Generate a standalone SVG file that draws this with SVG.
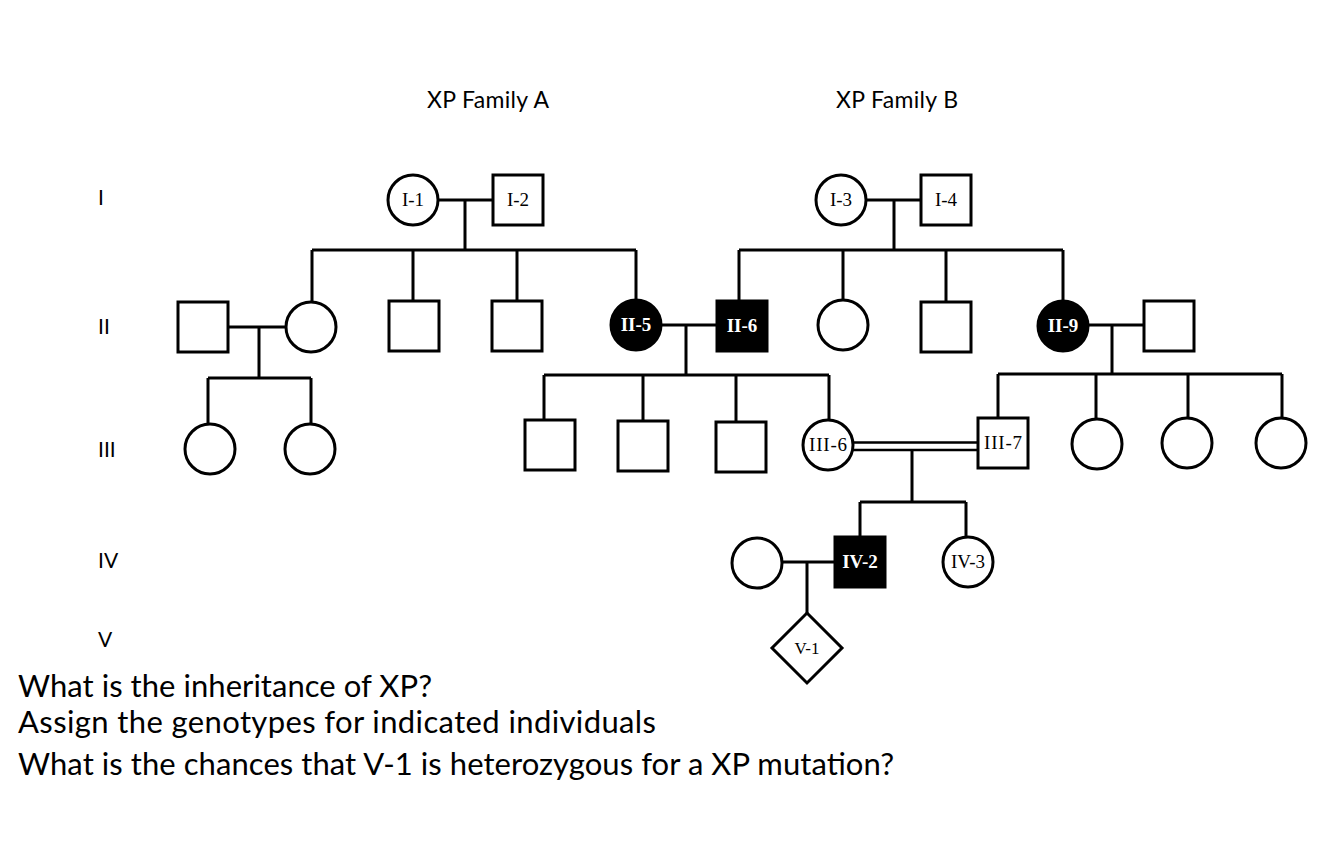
<svg xmlns="http://www.w3.org/2000/svg" width="1334" height="845" viewBox="0 0 1334 845">
<style>
.s{fill:#fff;stroke:#000;stroke-width:3}
.a{fill:#000;stroke:#000;stroke-width:3}
.c{fill:none;stroke:#000;stroke-width:3}
.d{fill:none;stroke:#000;stroke-width:2.5}
.l{font-family:"Liberation Serif",serif;font-size:19px;text-anchor:middle;fill:#000}
.w{font-family:"Liberation Serif",serif;font-size:19px;font-weight:bold;text-anchor:middle;fill:#fff}
.g{font-family:Lato,"Open Sans",sans-serif;font-size:21px;fill:#000}
.h{font-family:Lato,"Open Sans",sans-serif;font-size:23px;fill:#000}
.q{font-family:Lato,"Open Sans",sans-serif;font-size:31px;fill:#000}
</style>
<rect width="1334" height="845" fill="#fff"/>
<g id="headers">
<text class="h" x="427" y="108" textLength="122">XP Family A</text>
<text class="h" x="836" y="108" textLength="122">XP Family B</text>
</g>
<g id="generations">
<text class="g" x="98" y="205">I</text>
<text class="g" x="98" y="334">II</text>
<text class="g" x="98" y="457">III</text>
<text class="g" x="98" y="568">IV</text>
<text class="g" x="98" y="647">V</text>
</g>
<g id="connectors">
<path class="c" d="M438 200H493M465 200V250M312 250H636M312 250V302M413 250V301M517 250V301M636 250V301"/>
<path class="c" d="M228 327H286M259 327V378M208 378H311M208 378V424M311 378V424"/>
<path class="c" d="M661 325H717M686 325V375M544 375H829M544 375V420M643 375V421M736 375V422M829 375V420"/>
<path class="c" d="M866 200H921M894 200V250M739 250H1063M739 250V301M843 250V300M946 250V302M1063 250V301"/>
<path class="c" d="M1088 325H1144M1112 325V374M998 374H1282M998 374V418M1096 374V419M1188 374V418M1282 374V418"/>
<path class="d" d="M853 442.5H978M853 450H978"/>
<path class="c" d="M912 450V502M860 502H966M860 502V537M966 502V537"/>
<path class="c" d="M782 562H835M807 562V613"/>
</g>
<g id="I-1"><circle class="s" cx="413" cy="200" r="25"/><text class="l" x="413" y="206">I-1</text></g>
<g id="I-2"><rect class="s" x="493" y="175" width="50" height="50"/><text class="l" x="518" y="206">I-2</text></g>
<g id="I-3"><circle class="s" cx="841" cy="200" r="25"/><text class="l" x="841" y="206">I-3</text></g>
<g id="I-4"><rect class="s" x="921" y="175" width="50" height="50"/><text class="l" x="946" y="206">I-4</text></g>
<g id="II-1"><rect class="s" x="178" y="302" width="50" height="50"/></g>
<g id="II-2"><circle class="s" cx="311" cy="327" r="25"/></g>
<g id="II-3"><rect class="s" x="389" y="301" width="50" height="50"/></g>
<g id="II-4"><rect class="s" x="492" y="301" width="50" height="50"/></g>
<g id="II-5"><circle class="a" cx="636" cy="325" r="25"/><text class="w" x="636" y="331">II-5</text></g>
<g id="II-6"><rect class="a" x="717" y="301" width="50" height="50"/><text class="w" x="742" y="332">II-6</text></g>
<g id="II-7"><circle class="s" cx="843" cy="325" r="25"/></g>
<g id="II-8"><rect class="s" x="921" y="302" width="50" height="50"/></g>
<g id="II-9"><circle class="a" cx="1063" cy="326" r="25"/><text class="w" x="1063" y="332">II-9</text></g>
<g id="II-10"><rect class="s" x="1144" y="301" width="50" height="50"/></g>
<g id="III-1"><circle class="s" cx="210" cy="449" r="25"/></g>
<g id="III-2"><circle class="s" cx="310" cy="449" r="25"/></g>
<g id="III-3"><rect class="s" x="525" y="420" width="50" height="50"/></g>
<g id="III-4"><rect class="s" x="618" y="421" width="50" height="50"/></g>
<g id="III-5"><rect class="s" x="716" y="422" width="50" height="50"/></g>
<g id="III-6"><circle class="s" cx="828" cy="445" r="25"/><text class="l" x="828" y="451" textLength="38">III-6</text></g>
<g id="III-7"><rect class="s" x="978" y="418" width="50" height="50"/><text class="l" x="1003" y="449" textLength="38">III-7</text></g>
<g id="III-8"><circle class="s" cx="1097" cy="444" r="25"/></g>
<g id="III-9"><circle class="s" cx="1187" cy="443" r="25"/></g>
<g id="III-10"><circle class="s" cx="1281" cy="443" r="25"/></g>
<g id="IV-1"><circle class="s" cx="757" cy="563" r="25"/></g>
<g id="IV-2"><rect class="a" x="835" y="537" width="50" height="50"/><text class="w" x="860" y="568">IV-2</text></g>
<g id="IV-3"><circle class="s" cx="968" cy="562" r="25"/><text class="l" x="968" y="568">IV-3</text></g>
<g id="V-1"><polygon class="s" points="807,613 842,648 807,683 772,648"/><text class="l" x="807" y="654" style="font-size:17px">V-1</text></g>
<g id="questions">
<text class="q" x="18" y="697" textLength="414">What is the inheritance of XP?</text>
<text class="q" x="18" y="733" textLength="638">Assign the genotypes for indicated individuals</text>
<text class="q" x="18" y="775" textLength="876">What is the chances that V-1 is heterozygous for a XP mutation?</text>
</g>
</svg>
